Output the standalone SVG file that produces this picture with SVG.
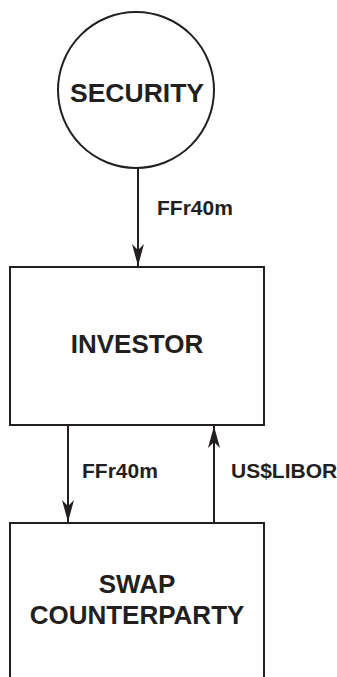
<svg xmlns="http://www.w3.org/2000/svg" width="337" height="677" viewBox="0 0 337 677">
<style>
.shape{fill:#fff;stroke:#231f20;stroke-width:2}
.node{font-family:"Liberation Sans",Arial,sans-serif;font-weight:bold;font-size:26px;fill:#231f20;text-anchor:middle}
.lbl{font-family:"Liberation Sans",Arial,sans-serif;font-weight:bold;font-size:21px;fill:#231f20}
.conn{stroke:#231f20;stroke-width:2;fill:none}
</style>
<defs>
<marker id="ah" viewBox="0 0 22 12" refX="22" refY="6" markerWidth="22" markerHeight="12" markerUnits="userSpaceOnUse" orient="auto">
<path d="M0,0 L22,6 L0,12 L6,6 Z" fill="#231f20"/>
</marker>
</defs>
<rect width="337" height="677" fill="#fff"/>
<g id="security">
<circle class="shape" cx="136" cy="90" r="78"/>
<text class="node" x="137" y="102" textLength="134" lengthAdjust="spacingAndGlyphs">SECURITY</text>
</g>
<g id="investor">
<rect class="shape" x="10" y="267" width="254" height="158"/>
<text class="node" x="137" y="353">INVESTOR</text>
</g>
<g id="swap">
<rect class="shape" x="10" y="523" width="254" height="170"/>
<text class="node" x="137" y="593">SWAP</text>
<text class="node" x="137" y="624">COUNTERPARTY</text>
</g>
<g id="connectors">
<line class="conn" x1="138" y1="168" x2="138" y2="266" marker-end="url(#ah)"/>
<line class="conn" x1="68" y1="425" x2="68" y2="522" marker-end="url(#ah)"/>
<line class="conn" x1="214" y1="523" x2="214" y2="426" marker-end="url(#ah)"/>
<text class="lbl" x="157" y="215">FFr40m</text>
<text class="lbl" x="82" y="478">FFr40m</text>
<text class="lbl" x="231" y="478">US$LIBOR</text>
</g>
</svg>
